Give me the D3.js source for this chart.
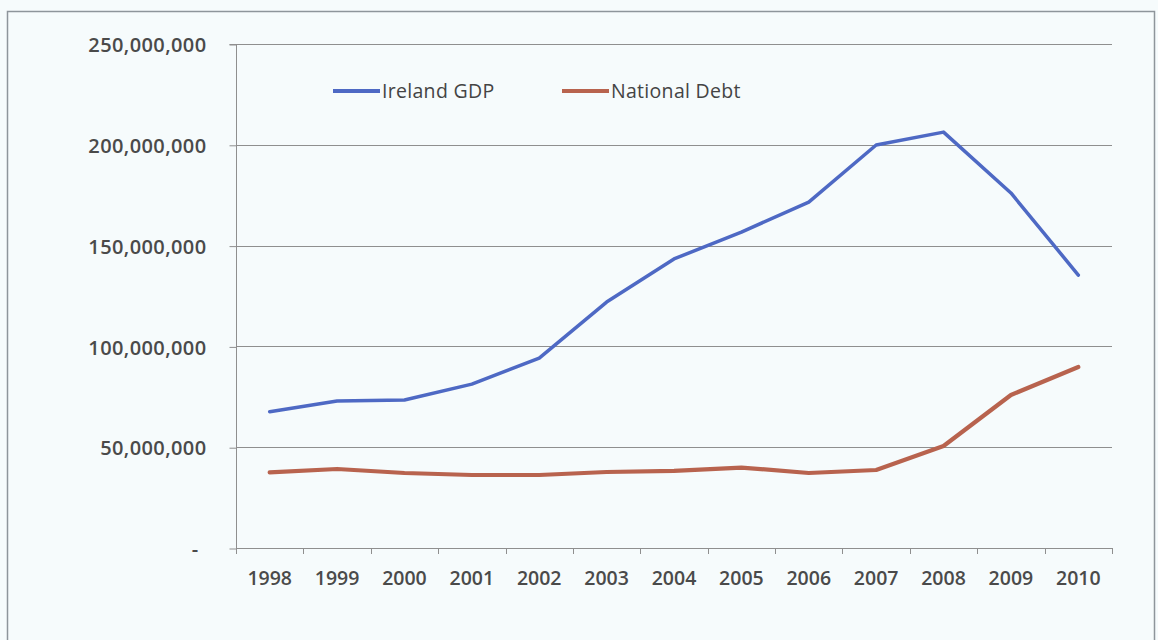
<!DOCTYPE html>
<html>
<head>
<meta charset="utf-8">
<script src="https://cdn.jsdelivr.net/npm/d3@7/dist/d3.min.js"></script>
<style>
  html, body { margin: 0; padding: 0; background: #f6fbfc; }
  svg { display: block; }
  text { font-family: "Open Sans", "DejaVu Sans", sans-serif; }
</style>
</head>
<body>
<svg id="chart" width="1158" height="640"></svg>
<script>
// Years on the category axis
const years = ["1998", "1999", "2000", "2001", "2002", "2003", "2004",
               "2005", "2006", "2007", "2008", "2009", "2010"];

// Ireland GDP per year
const gdpValues = [67600000, 72900000, 73400000, 81300000, 94200000, 122000000,
                   143400000, 156700000, 171600000, 199900000, 206300000,
                   176100000, 135400000];

// National debt per year
const debtValues = [37500000, 39200000, 37200000, 36200000, 36200000, 37700000,
                    38300000, 39900000, 37200000, 38700000, 50600000,
                    75900000, 89800000];

// Value axis ticks
const yTicks = [0, 50000000, 100000000, 150000000, 200000000, 250000000];

const seriesNames = ["Ireland GDP", "National Debt"];
const seriesColors = ["#4e69c4", "#b8634e"];

const plot = { left: 236, right: 1112, top: 44, bottom: 548 };

const svg = d3.select("#chart");

// outer chart frame
svg.append("rect")
  .attr("x", 7.5).attr("y", 11.5)
  .attr("width", 1147).attr("height", 700)
  .attr("fill", "#f6fbfc")
  .attr("stroke", "#8e959b").attr("stroke-width", 1.5);

const x = d3.scaleBand().domain(years).range([plot.left, plot.right]).padding(0);
const y = d3.scaleLinear().domain([0, 250000000]).range([plot.bottom, plot.top]);
const cx = d => x(d) + x.bandwidth() / 2;

// horizontal gridlines
svg.append("g")
  .selectAll("line")
  .data(yTicks.filter(t => t > 0))
  .join("line")
  .attr("x1", plot.left).attr("x2", plot.right)
  .attr("y1", d => Math.round(y(d)) + 0.5).attr("y2", d => Math.round(y(d)) + 0.5)
  .attr("stroke", "#8f8f8f").attr("stroke-width", 1);

// value axis
const yAxis = d3.axisLeft(y)
  .tickValues(yTicks)
  .tickSize(7)
  .tickPadding(23)
  .tickFormat(d => d === 0 ? "-" : d3.format(",")(d));

const yg = svg.append("g")
  .attr("transform", `translate(${plot.left + 0.5},0.5)`)
  .call(yAxis);
yg.select(".domain").attr("stroke", "#8f8f8f").attr("d", `M-7,${plot.top}H0V${plot.bottom}`);
yg.selectAll(".tick line").attr("stroke", "#8f8f8f");
yg.selectAll(".tick text")
  .attr("fill", "#4a4a4a")
  .attr("font-size", 20)
  .attr("font-weight", 600)
  .attr("letter-spacing", 0.4)
  .attr("dy", "0.36em")
  .attr("dx", d => d === 0 ? -8 : 0);

// category axis
svg.append("line")
  .attr("x1", plot.left).attr("x2", plot.right)
  .attr("y1", plot.bottom + 0.5).attr("y2", plot.bottom + 0.5)
  .attr("stroke", "#8f8f8f");

const boundaries = years.map(d => x(d)).concat([plot.right]);
svg.append("g")
  .selectAll("line")
  .data(boundaries)
  .join("line")
  .attr("x1", d => Math.round(d) + 0.5).attr("x2", d => Math.round(d) + 0.5)
  .attr("y1", plot.bottom).attr("y2", plot.bottom + 6)
  .attr("stroke", "#8f8f8f");

svg.append("g")
  .selectAll("text")
  .data(years)
  .join("text")
  .attr("x", d => cx(d))
  .attr("y", 585)
  .attr("text-anchor", "middle")
  .attr("fill", "#4a4a4a")
  .attr("font-size", 19.5)
  .attr("font-weight", 600)
  .text(d => d);

// series lines
const line = d3.line()
  .x((d, i) => cx(years[i]))
  .y(d => y(d));

[gdpValues, debtValues].forEach((vals, k) => {
  svg.append("path")
    .datum(vals)
    .attr("d", line)
    .attr("fill", "none")
    .attr("stroke", seriesColors[k])
    .attr("stroke-width", k === 0 ? 3.5 : 4.2)
    .attr("stroke-linejoin", "round")
    .attr("stroke-linecap", "round");
});

// legend
const legendX = [333, 562];
const lg = svg.append("g");
seriesNames.forEach((name, k) => {
  lg.append("line")
    .attr("x1", legendX[k]).attr("x2", legendX[k] + 47)
    .attr("y1", 91).attr("y2", 91)
    .attr("stroke", seriesColors[k])
    .attr("stroke-width", 4);
  lg.append("text")
    .attr("x", legendX[k] + 49)
    .attr("y", 91)
    .attr("dy", "0.36em")
    .attr("fill", "#444")
    .attr("font-size", 19.5)
    .attr("font-weight", 500)
    .attr("letter-spacing", 0.3)
    .text(name);
});
</script>
</body>
</html>
